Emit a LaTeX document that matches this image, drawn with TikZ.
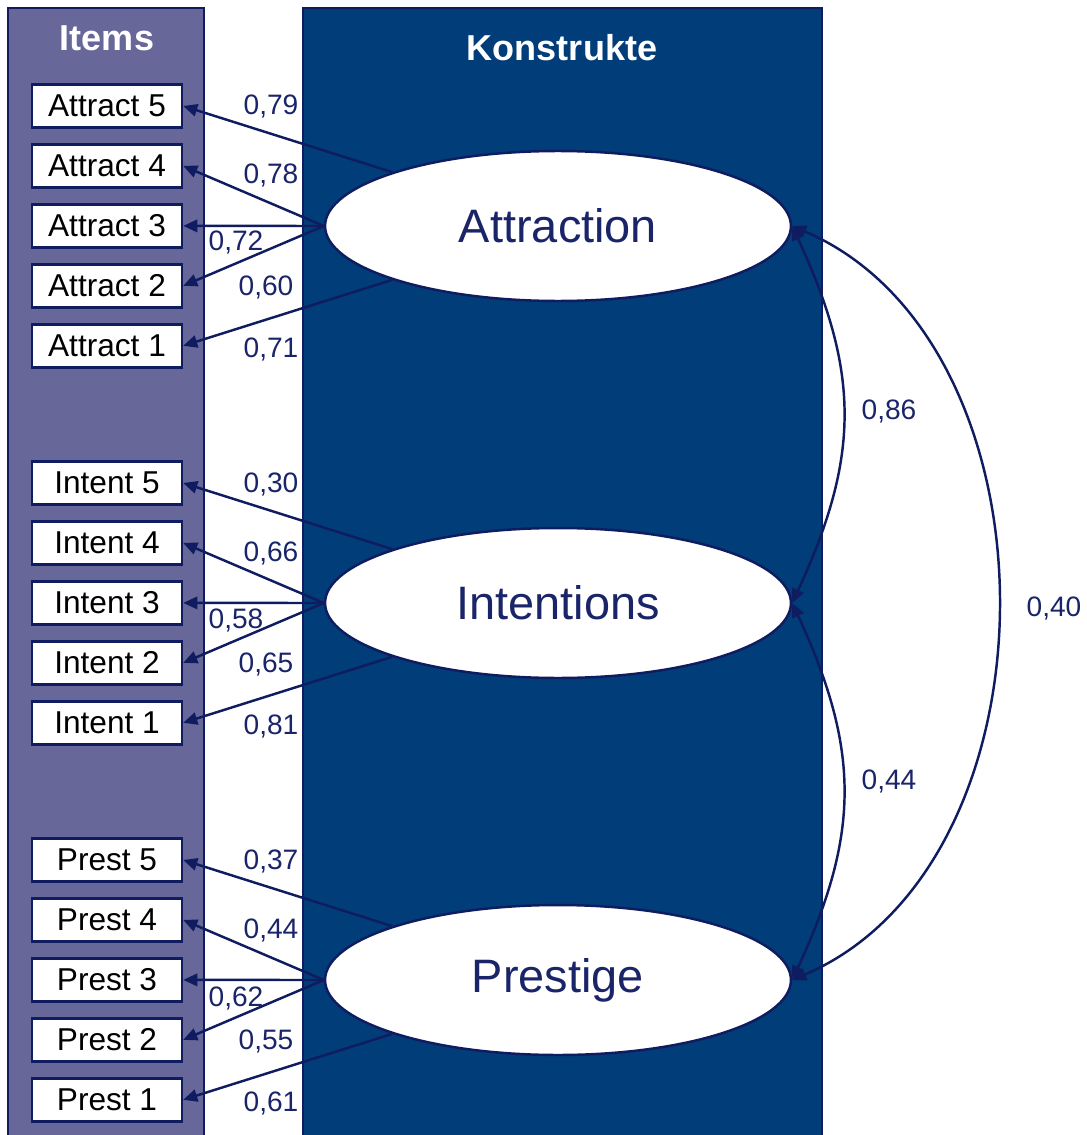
\documentclass[tikz,border=0pt]{standalone}
\usepackage{fontspec}
\setmainfont{Liberation Sans}
\usetikzlibrary{arrows.meta,positioning,shapes.geometric}

\definecolor{itemsbg}{RGB}{103,103,154}
\definecolor{konbg}{RGB}{0,61,121}
\definecolor{navy}{RGB}{16,28,96}
\definecolor{labelblue}{RGB}{26,36,104}

\begin{document}
\begin{tikzpicture}[x=0.02cm,y=-0.02cm]
\tikzstyle{panel}=[draw=navy,line width=1.3pt]
\tikzstyle{heading}=[text=white,inner sep=0pt,font=\bfseries\fontsize{20.5}{22}\selectfont]
\tikzstyle{item}=[draw=navy,line width=1.4pt,fill=white,minimum width=3cm,minimum height=0.86cm,inner sep=0pt,font=\fontsize{18}{20}\selectfont]
\tikzstyle{construct}=[ellipse,draw=navy,line width=1.4pt,fill=white,minimum width=9.32cm,minimum height=3cm,inner sep=0pt,text=labelblue,font=\fontsize{26.7}{30}\selectfont]
\tikzstyle{loading}=[navy,line width=1.4pt,-{Triangle[length=8pt,width=7pt]}]
\tikzstyle{corr}=[navy,line width=1.4pt,{Triangle[length=8pt,width=7pt]}-{Triangle[length=8pt,width=7pt]}]
\tikzstyle{weight}=[text=labelblue,inner sep=0pt,font=\fontsize{16}{18}\selectfont]

\useasboundingbox (0,0) rectangle (1086,1135);

%% ========== PANELS ==========
\draw[panel,fill=itemsbg] (8,8) rectangle (204,1150);
\draw[panel,fill=konbg] (303,8) rectangle (822,1150);
\node[heading] (items-title) at (107,38) {Items};
\node[heading] (konstrukte-title) at (562,48) {Konstrukte};

%% ========== CONSTRUCTS ==========
\node[construct] (attraction) at (558,226) {Attraction};
\node[construct] (intentions) at (558,603) {Intentions};
\node[construct] (prestige) at (558,980) {Prestige};

%% ========== ITEMS ==========
% Attraction items
\node[item] (attract5) at (107,106) {Attract 5};
\node[item, below=0.29cm of attract5] (attract4) {Attract 4};
\node[item, below=0.29cm of attract4] (attract3) {Attract 3};
\node[item, below=0.29cm of attract3] (attract2) {Attract 2};
\node[item, below=0.29cm of attract2] (attract1) {Attract 1};

% Intentions items
\node[item] (intent5) at (107,483) {Intent 5};
\node[item, below=0.29cm of intent5] (intent4) {Intent 4};
\node[item, below=0.29cm of intent4] (intent3) {Intent 3};
\node[item, below=0.29cm of intent3] (intent2) {Intent 2};
\node[item, below=0.29cm of intent2] (intent1) {Intent 1};

% Prestige items
\node[item] (prest5) at (107,860) {Prest 5};
\node[item, below=0.29cm of prest5] (prest4) {Prest 4};
\node[item, below=0.29cm of prest4] (prest3) {Prest 3};
\node[item, below=0.29cm of prest3] (prest2) {Prest 2};
\node[item, below=0.29cm of prest2] (prest1) {Prest 1};

%% ========== LOADINGS ==========
\draw[loading] (attraction.162) -- (attract5.east);
\draw[loading] (attraction.west) -- (attract4.east);
\draw[loading] (attraction.west) -- (attract3.east);
\draw[loading] (attraction.west) -- (attract2.east);
\draw[loading] (attraction.198) -- (attract1.east);

\draw[loading] (intentions.162) -- (intent5.east);
\draw[loading] (intentions.west) -- (intent4.east);
\draw[loading] (intentions.west) -- (intent3.east);
\draw[loading] (intentions.west) -- (intent2.east);
\draw[loading] (intentions.198) -- (intent1.east);

\draw[loading] (prestige.162) -- (prest5.east);
\draw[loading] (prestige.west) -- (prest4.east);
\draw[loading] (prestige.west) -- (prest3.east);
\draw[loading] (prestige.west) -- (prest2.east);
\draw[loading] (prestige.198) -- (prest1.east);

% loading values
\node[weight] (w-a5) at (271,106) {0,79};
\node[weight] (w-a4) at (271,175) {0,78};
\node[weight] (w-a3) at (236,242) {0,72};
\node[weight] (w-a2) at (266,287) {0,60};
\node[weight] (w-a1) at (271,349) {0,71};

\node[weight] (w-i5) at (271,484) {0,30};
\node[weight] (w-i4) at (271,553) {0,66};
\node[weight] (w-i3) at (236,620) {0,58};
\node[weight] (w-i2) at (266,664) {0,65};
\node[weight] (w-i1) at (271,726) {0,81};

\node[weight] (w-p5) at (271,861) {0,37};
\node[weight] (w-p4) at (271,930) {0,44};
\node[weight] (w-p3) at (236,998) {0,62};
\node[weight] (w-p2) at (266,1041) {0,55};
\node[weight] (w-p1) at (271,1103) {0,61};

%% ========== CORRELATIONS ==========
\draw[corr] (attraction.east) .. controls +(68,147) and +(68,-147) .. (intentions.east);
\draw[corr] (intentions.east) .. controls +(68,147) and +(68,-147) .. (prestige.east);
\draw[corr] (attraction.east) .. controls +(273,117) and +(273,-117) .. (prestige.east);

\node[weight] (c-ai) at (889,411) {0,86};
\node[weight] (c-ip) at (889,781) {0,44};
\node[weight] (c-ap) at (1054,608) {0,40};

\end{tikzpicture}
\end{document}
